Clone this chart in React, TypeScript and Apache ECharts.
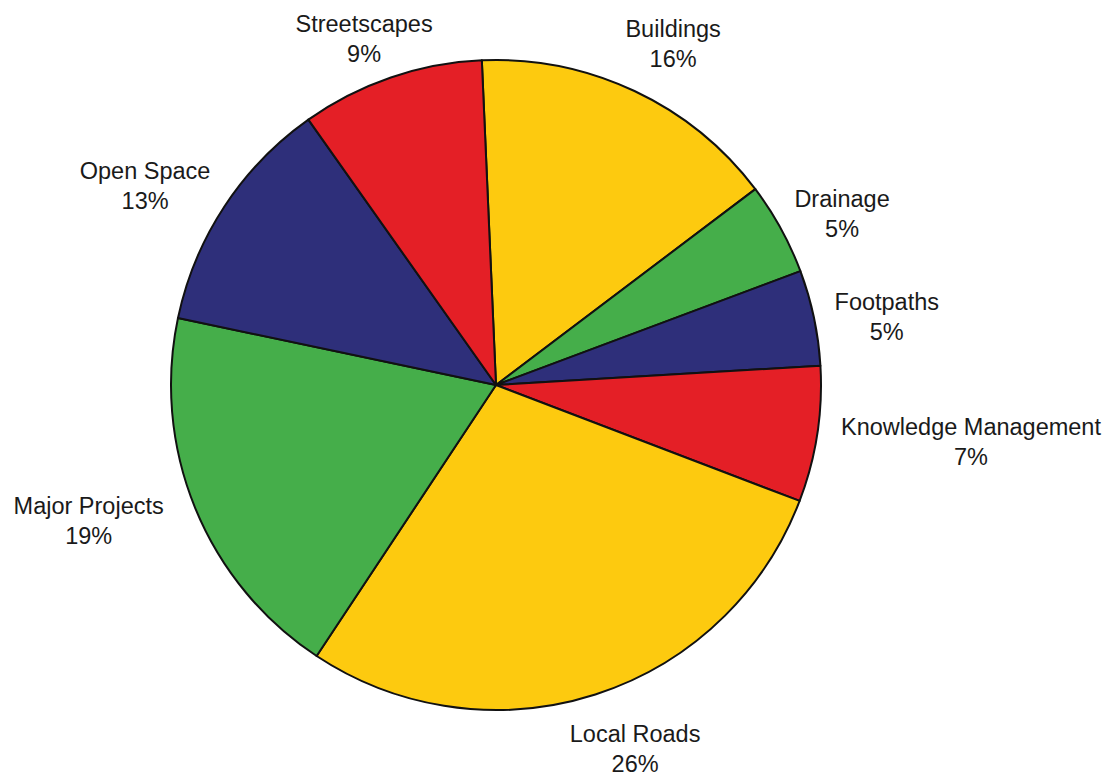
import React, { useEffect, useRef } from "react";
import * as echarts from "echarts";

const categories = [
  "Buildings",
  "Drainage",
  "Footpaths",
  "Knowledge Management",
  "Local Roads",
  "Major Projects",
  "Open Space",
  "Streetscapes",
];
// slice sizes as drawn
const shares = [15.4, 4.6, 4.75, 6.75, 28.5, 19.0, 11.9, 9.1];
// percentages as printed
const shareLabels = [16, 5, 5, 7, 26, 19, 13, 9];
const colors = ["#FDCA0F", "#45AE4A", "#2E2F7A", "#E41F26", "#FDCA0F", "#45AE4A", "#2E2F7A", "#E41F26"];

// layout-only nudges for the hand-placed labels (px)
const labelNudgeX = [16, -4, 1, 4, 24, -15, -17, -10];
const labelNudgeY = [1, 21, 14, -15, 6, -25, 21, 10];

const START = 92.5;
const CX = 496;
const CY = 385;
const R = 325;
const LABEL_GAP = 20;

export default function App() {
  const ref = useRef<HTMLDivElement>(null);
  useEffect(() => {
    if (!ref.current) return;
    const chart = echarts.init(ref.current, null, { renderer: "svg" });
    const total = shares.reduce((a, b) => a + b, 0);
    const mids: number[] = [];
    let cum = 0;
    shares.forEach((v) => {
      mids.push((90 - START) + (360 * (cum + v / 2)) / total);
      cum += v;
    });
    chart.setOption({
      animation: false,
      backgroundColor: "#ffffff",
      series: [
        {
          type: "pie",
          center: [CX, CY],
          radius: [0, R],
          startAngle: START,
          clockwise: true,
          avoidLabelOverlap: false,
          data: categories.map((name, i) => ({
            name,
            value: shares[i],
            itemStyle: { color: colors[i] },
          })),
          itemStyle: { borderColor: "#111111", borderWidth: 2 },
          label: {
            show: true,
            position: "outside",
            formatter: (p: any) => `${p.name}\n${shareLabels[p.dataIndex]}%`,
            fontFamily: "Liberation Sans, Arial, sans-serif",
            fontSize: 23.5,
            lineHeight: 30,
            color: "#1a1a1a",
          },
          labelLine: { show: false },
          labelLayout: (params: any) => {
            const i = params.dataIndex;
            const th = (mids[i] * Math.PI) / 180;
            const ux = Math.sin(th);
            const uy = -Math.cos(th);
            const w = params.labelRect.width / 2;
            const h = params.labelRect.height / 2;
            const d = Math.min(
              Math.abs(ux) > 1e-6 ? w / Math.abs(ux) : 1e9,
              Math.abs(uy) > 1e-6 ? h / Math.abs(uy) : 1e9
            );
            const dist = R + LABEL_GAP + d;
            return {
              x: CX + ux * dist + labelNudgeX[i],
              y: CY + uy * dist + labelNudgeY[i],
              align: "center",
              verticalAlign: "middle",
            };
          },
        },
      ],
    });
    return () => chart.dispose();
  }, []);
  return (
    <div
      ref={ref}
      style={{ position: "fixed", left: 0, top: 0, width: 1115, height: 775 }}
    />
  );
}
